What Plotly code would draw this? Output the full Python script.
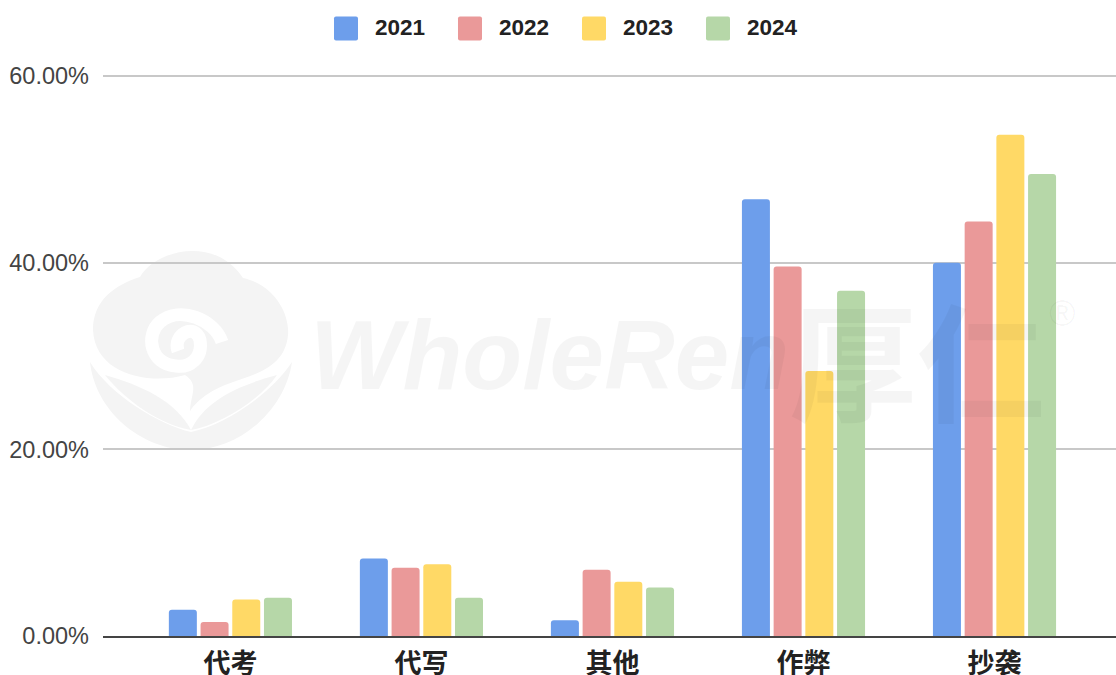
import plotly.graph_objects as go

categories = ["代考", "代写", "其他", "作弊", "抄袭"]
years = ["2021", "2022", "2023", "2024"]
v2021 = [2.8, 8.3, 1.7, 46.8, 40.0]
v2022 = [1.5, 7.3, 7.1, 39.6, 44.4]
v2023 = [3.9, 7.7, 5.8, 28.4, 53.7]
v2024 = [4.1, 4.1, 5.2, 37.0, 49.5]
colors = ["#6d9eeb", "#ea9999", "#ffd966", "#b6d7a8"]
ticks = [0, 20, 40, 60]
ticktext = ["0.00%", "20.00%", "40.00%", "60.00%"]

W, H = 1116, 675
px = lambda x: x / W
py = lambda y: 1 - y / H


def path(cmds):
    """Build an SVG path in paper units from (command, x, y, ...) pixel tuples."""
    out = []
    for c in cmds:
        nums = c[1:]
        pts = " ".join(f"{px(nums[i]):.5f},{py(nums[i + 1]):.5f}" for i in range(0, len(nums), 2))
        out.append(f"{c[0]} {pts}")
    return " ".join(out) + " Z"


def rounded(x0, y0, x1, y1, r=2):
    return path([("M", x0 + r, y0), ("L", x1 - r, y0), ("Q", x1, y0, x1, y0 + r), ("L", x1, y1 - r),
                 ("Q", x1, y1, x1 - r, y1), ("L", x0 + r, y1), ("Q", x0, y1, x0, y1 - r),
                 ("L", x0, y0 + r), ("Q", x0, y0, x0 + r, y0)])


fig = go.Figure()
for y, v, c in zip(years, [v2021, v2022, v2023, v2024], colors):
    fig.add_bar(name=y, x=categories, y=v, showlegend=False,
                marker=dict(color=c, line_width=0, cornerradius=3))

shapes, annotations = [], []
# hand-drawn legend: plotly's own swatches cannot be this large
for i, (y, c) in enumerate(zip(years, colors)):
    x0 = 334 + i * 124
    shapes.append(dict(type="path", xref="paper", yref="paper", path=rounded(x0, 16.5, x0 + 24, 40.5),
                       fillcolor=c, line_width=0))
    annotations.append(dict(text=f"<b>{y}</b>", xref="paper", yref="paper",
                            x=px(x0 + 38.5), y=py(27.5), xanchor="left", yanchor="middle",
                            showarrow=False, font=dict(size=22.5, color="#222222", family="Liberation Sans")))

# faint watermark
wm = "rgba(0,0,0,0.04)"
annotations += [
    dict(text="<b><i>WholeRen</i></b>", xref="paper", yref="paper", x=px(308), y=py(355),
         xanchor="left", yanchor="middle", showarrow=False,
         font=dict(size=98, color=wm, family="Liberation Sans")),
    dict(text="<b>厚仁</b>", xref="paper", yref="paper", x=px(787), y=py(357),
         xanchor="left", yanchor="middle", showarrow=False,
         font=dict(size=128, color=wm, family="Noto Sans CJK SC")),
    dict(text="®", xref="paper", yref="paper", x=px(1062), y=py(313), xanchor="center",
         showarrow=False, font=dict(size=36, color=wm, family="Liberation Sans")),
]
cloud = path([("M", 140, 277), ("C", 155, 250, 215, 235, 243, 278), ("C", 275, 285, 290, 315, 288, 335),
              ("C", 285, 370, 250, 375, 225, 385), ("C", 200, 395, 190, 410, 190, 412),
              ("C", 190, 395, 200, 385, 185, 375), ("C", 150, 385, 95, 375, 93, 330),
              ("C", 93, 300, 115, 285, 140, 277)])
bowl = path([("M", 90, 362), ("C", 110, 395, 160, 425, 191, 432), ("C", 225, 425, 270, 395, 292, 362),
             ("C", 285, 410, 240, 450, 191, 450), ("C", 140, 450, 95, 410, 90, 362)])
left = path([("M", 105, 375), ("C", 140, 385, 175, 400, 191, 430), ("C", 160, 425, 125, 400, 105, 375)])
right = path([("M", 277, 375), ("C", 240, 385, 205, 400, 191, 430), ("C", 220, 425, 260, 400, 277, 375)])
for p in (cloud, bowl, left, right):
    shapes.append(dict(type="path", xref="paper", yref="paper", layer="below", path=p,
                       fillcolor="#f4f4f4", line_width=0))
spiral = ("M {} {} C {} {} {} {} {} {} C {} {} {} {} {} {} C {} {} {} {} {} {} C {} {} {} {} {} {}").format(
    *[v for x, y in [(178, 351), (172, 335), (195, 322), (200, 340), (203, 358), (190, 368), (176, 366),
                     (150, 364), (145, 335), (160, 322), (180, 305), (215, 320), (222, 342)]
      for v in (f"{px(x):.5f}", f"{py(y):.5f}")])
shapes.append(dict(type="path", xref="paper", yref="paper", layer="below", path=spiral,
                   line=dict(color="white", width=13), fillcolor="rgba(0,0,0,0)"))

fig.update_layout(
    width=W, height=H, margin=dict(l=0, r=0, t=0, b=0),
    paper_bgcolor="white", plot_bgcolor="rgba(0,0,0,0)",
    barmode="group", bargap=0.336, bargroupgap=0.117, showlegend=False,
    font=dict(family="Liberation Sans, Noto Sans CJK SC", color="#222222"),
    shapes=shapes, annotations=annotations,
    xaxis=dict(domain=[103 / W, 1], range=[-0.667, 4.636],
               tickfont=dict(size=27, family="Noto Sans CJK SC", color="#222222", weight="bold"),
               showline=True, linecolor="#444444", linewidth=2, ticks="", showgrid=False,
               ticklabelstandoff=3, automargin=False),
    yaxis=dict(domain=[39 / H, 1 - 74.13 / H], range=[0, 60.2], tickvals=ticks, ticktext=ticktext,
               tickfont=dict(size=23.5, color="#444444"), gridcolor="#c8c8c8", gridwidth=1.5,
               zeroline=False, ticks="", ticklabelstandoff=13, automargin=False),
)
fig.write_html("out.html", post_script="document.body.style.margin='0';",
               config=dict(displayModeBar=False))
